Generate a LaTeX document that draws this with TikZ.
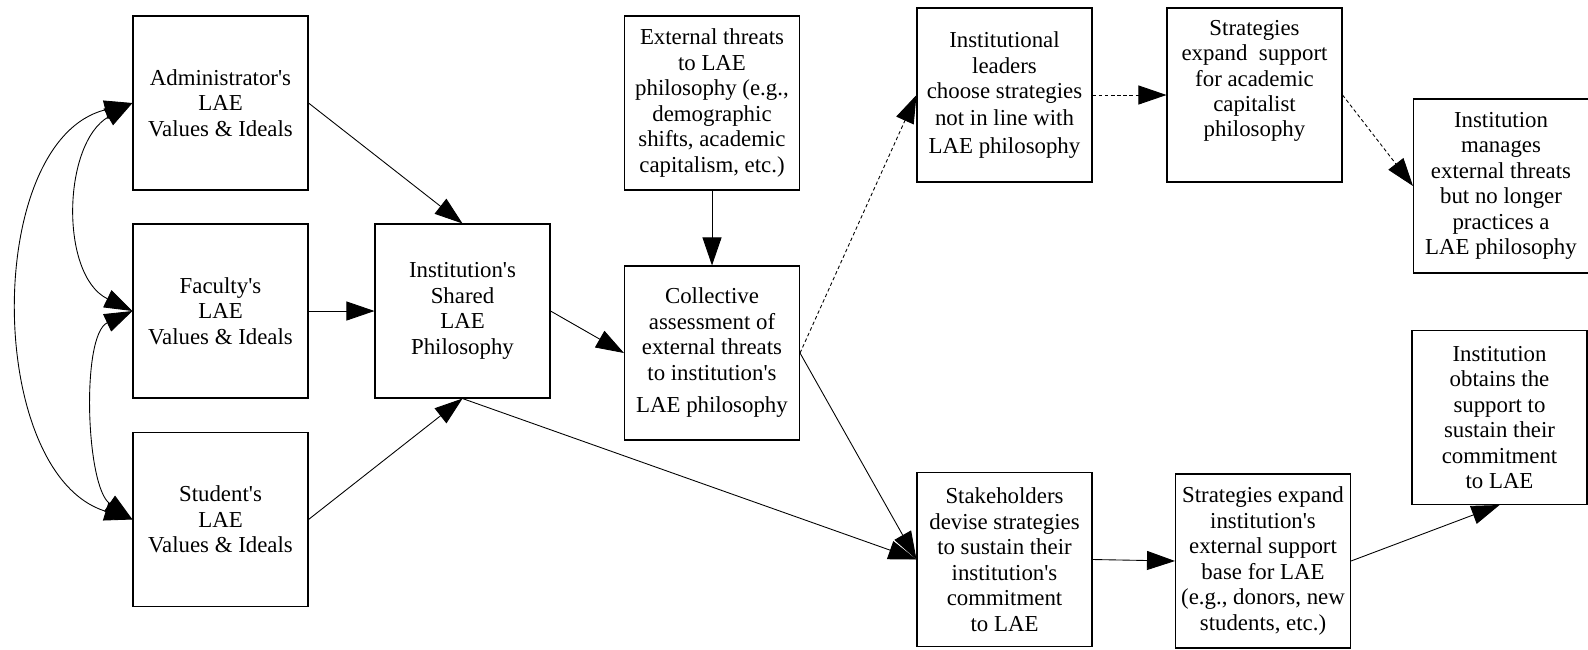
\documentclass[tikz,border=0pt]{standalone}
\usepackage{fontspec}
\setmainfont{Liberation Serif}
\usetikzlibrary{arrows.meta}
\newcommand{\apos}{\textquotesingle}
\begin{document}
\begin{tikzpicture}[
    box/.style={draw, line width=0.6pt, minimum width=3.5cm, minimum height=3.48cm,
        align=center, inner sep=1pt, font=\fontsize{13}{14.5}\selectfont},
    >={Triangle[length=0.56cm, width=0.38cm]},
    line width=0.5pt]
    \useasboundingbox (0,0) rectangle (31.76,-12.98);

    % Values & ideals of the three groups
    \node[box] (admin) at (4.41,-2.06) {Administrator\apos s\\LAE\\Values \& Ideals};
    \node[box] (faculty) at (4.41,-6.22) {Faculty\apos s\\LAE\\Values \& Ideals};
    \node[box] (student) at (4.41,-10.39) {Student\apos s\\LAE\\Values \& Ideals};
    \node[box] (shared) at (9.25,-6.22) {Institution\apos s\\Shared\\LAE\\Philosophy};

    % Threats and assessment
    \node[box] (threats) at (14.24,-2.06) {External threats\\to LAE\\philosophy (e.g.,\\demographic\\shifts, academic\\capitalism, etc.)};
    \node[box] (assess) at (14.24,-7.06) {Collective\\assessment of\\external threats\\to institution\apos s\\[4pt]LAE philosophy};

    % Upper path
    \node[box] (leaders) at (20.09,-1.9) {Institutional\\leaders\\choose strategies\\[1pt]not in line with\\[1pt]LAE philosophy};
    \node[box] (capital) at (25.09,-1.9) {Strategies\\expand~ support\\for academic\\capitalist\\philosophy\\\strut};
    \node[box] (manages) at (30.02,-3.72) {Institution\\manages\\external threats\\but no longer\\practices a\\LAE philosophy};

    % Lower path
    \node[box] (devise) at (20.09,-11.19) {Stakeholders\\devise strategies\\to sustain their\\institution\apos s\\commitment\\to LAE};
    \node[box] (base) at (25.26,-11.22) {Strategies expand\\institution\apos s\\external support\\base for LAE\\(e.g., donors, new\\students, etc.)};
    \node[box] (obtains) at (29.99,-8.35) {Institution\\obtains the\\support to\\sustain their\\commitment\\to LAE};

    % Mutual influence
    \draw[<->] (admin.west) to[out=210, in=154] (faculty.west);
    \draw[<->] (faculty.west) to[out=205, in=145, looseness=0.7] (student.west);
    \draw[<->] (admin.west) to[out=194, in=163, looseness=0.95] (student.west);

    % Flow
    \draw[->] (admin.east) -- (shared.north);
    \draw[->] (faculty.east) -- (shared.west);
    \draw[->] (student.east) -- (shared.south);
    \draw[->] (shared.east) -- (assess.west);
    \draw[->] (threats.south) -- (assess.north);
    \draw[->] (shared.south) -- (devise.west);
    \draw[->] (assess.east) -- (devise.west);
    \draw[->] (devise.east) -- (base.west);
    \draw[->] (base.east) -- (obtains.south);

    % Not in line with LAE
    \draw[->, dash pattern=on 2pt off 1.5pt] (assess.east) -- (leaders.west);
    \draw[->, dash pattern=on 2pt off 1.5pt] (leaders.east) -- (capital.west);
    \draw[->, dash pattern=on 2pt off 1.5pt] (capital.east) -- (manages.west);

\end{tikzpicture}
\end{document}
